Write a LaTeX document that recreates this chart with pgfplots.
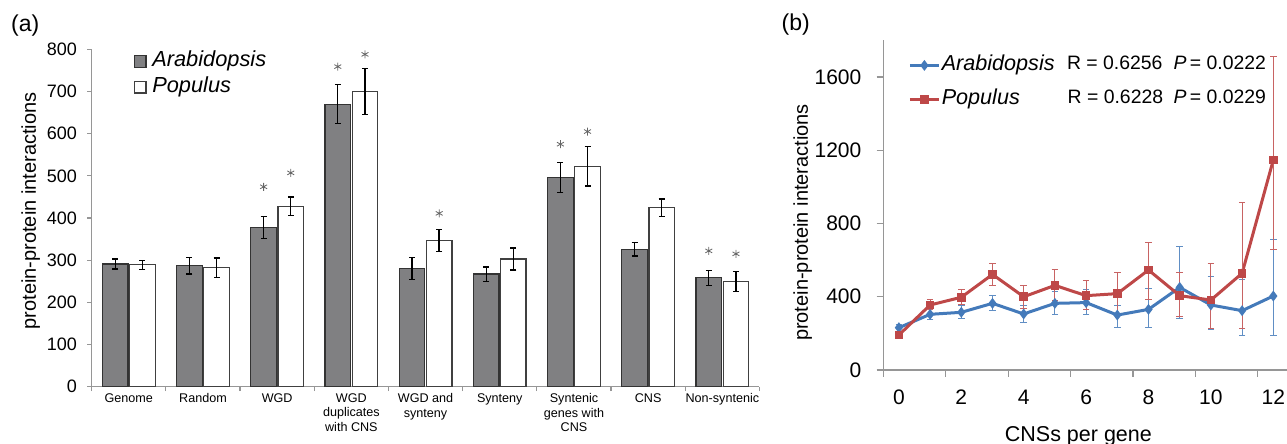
\documentclass[border=0pt]{standalone}
\usepackage{fontspec}
\setmainfont{Liberation Sans}
\usepackage{pgfplots}
\pgfplotsset{compat=1.18}
\usepackage{pgfplotstable}

\definecolor{bardark}{RGB}{128,128,130}
\definecolor{axgray}{RGB}{150,150,150}
\definecolor{ablue}{RGB}{68,122,186}
\definecolor{pred}{RGB}{190,72,72}

% panel (a): x, Arabidopsis mean, err, Populus mean, err
\pgfplotstableread{
x  a   ae  p   pe
0  291 12  289 11
1  287 20  282 23
2  377 26  428 22
3  670 46  700 55
4  280 26  346 26
5  267 17  303 26
6  496 36  523 47
7  326 16  424 21
8  258 18  249 24
}\bars

\pgfplotstableread{
x     y
1.817 474
2.183 507
2.817 759
3.183 788
4.183 411
5.817 575
6.183 605
7.817 322
8.183 315
}\stars

% panel (b)
\pgfplotstableread{
x  y   ep  em
0  231 20  22
1  304 24  27
2  315 35  33
3  364 42  40
4  306 45  46
5  364 62  60
6  368 70  65
7  300 53  69
8  331 115 100
9  451 221 172
10 355 158 133
11 324 171 138
12 404 311 218
}\arab

\pgfplotstableread{
x  y    ep  em
0  191 8   8
1  355 29  27
2  397 42  40
3  522 62  61
4  400 64  63
5  462 88  80
6  406 85  73
7  417 116 117
8  546 149 160
9  406 129 115
10 382 199 154
11 528 386 302
12 1147 564 488
}\popu

\begin{document}
\begin{tikzpicture}
\useasboundingbox (0,0) rectangle (643.5pt,222pt);

% ---------------- panel (a)
\begin{axis}[
  at={(45.85pt,28.65pt)}, anchor=south west,
  scale only axis, width=333.9pt, height=168.7pt,
  xmin=-0.5, xmax=8.5, ymin=0, ymax=800,
  axis x line*=bottom, axis y line*=left,
  axis line style={axgray, line width=0.6pt},
  tick style={axgray, line width=0.6pt},
  tick align=outside,
  major tick length=2.2pt,
  xtick={-0.5,0.5,...,8.5}, xticklabels={},
  extra x ticks={0,1,...,8},
  extra x tick labels={Genome,Random,WGD,{WGD\\duplicates\\with CNS},{WGD and\\synteny},Synteny,{Syntenic\\genes with\\CNS},CNS,Non-syntenic},
  extra x tick style={major tick length=0pt,
     tick label style={align=center, font=\fontsize{6.3}{7.2}\selectfont, anchor=north, inner sep=0pt, yshift=-3.3pt}},
  ytick={0,100,...,800},
  /pgf/number format/assume math mode=true,
  yticklabel style={font=\fontsize{9}{10}\selectfont, anchor=east, inner sep=0pt, xshift=-5pt},
  ylabel={protein-protein interactions},
  every axis y label/.style={at={(axis description cs:-0.0912,0.521)}, rotate=90, anchor=center, font=\fontsize{10}{12}\selectfont},
  legend style={draw=none, fill=none, at={(axis description cs:0.0623,0.9953)}, anchor=north west,
     inner sep=0pt, row sep=2.75pt, column sep=2.85pt,
     nodes={inner sep=0pt, text height=7.8pt, text depth=2.3pt},
     font=\fontsize{10.9}{13}\selectfont\itshape},
  legend cell align=left,
  legend image code/.code={\draw[#1] (0pt,-2.925pt) rectangle (5.85pt,2.925pt);},
]
\addplot[ybar, bar width=12.75pt, bar shift=-6.78pt, fill=bardark, draw=black!80, line width=0.6pt]
  table[x=x, y=a] {\bars};
\addlegendentry{Arabidopsis}
\addplot[ybar, bar width=12.75pt, bar shift=6.78pt, fill=white, draw=black!75, line width=0.6pt]
  table[x=x, y=p] {\bars};
\addlegendentry{Populus}
% error bars, centred on the bars
\addplot[draw=none, mark=none, forget plot,
  error bars/.cd, y dir=both, y explicit,
  error bar style={draw=black, line width=0.65pt},
  error mark options={draw=black, rotate=90, line width=0.65pt, mark size=1.5pt}]
  table[x expr=\thisrow{x}-0.1827, y=a, y error=ae] {\bars};
\addplot[draw=none, mark=none, forget plot,
  error bars/.cd, y dir=both, y explicit,
  error bar style={draw=black, line width=0.65pt},
  error mark options={draw=black, rotate=90, line width=0.65pt, mark size=1.5pt}]
  table[x expr=\thisrow{x}+0.1827, y=p, y error=pe] {\bars};
\addplot[only marks, mark=asterisk, mark size=2pt, color=black!60, line width=0.4pt, forget plot]
  table[x=x, y=y] {\stars};
\end{axis}

% ---------------- panel (b)
\begin{axis}[
  at={(441.65pt,37pt)}, anchor=south west,
  scale only axis, width=202.8pt, height=164.8pt,
  xmin=-0.5, xmax=12.5, ymin=0, ymax=1800,
  axis x line*=bottom, axis y line*=left,
  axis line style={axgray, line width=0.6pt},
  tick style={axgray, line width=0.6pt},
  tick align=outside,
  major tick length=3.3pt,
  xtick={-0.5,1.5,...,11.5}, xticklabels={},
  extra x ticks={0,2,...,12},
  extra x tick labels={0,2,4,6,8,10,12},
  extra x tick style={major tick length=0pt,
     tick label style={font=\fontsize{10.5}{12}\selectfont, anchor=north, inner sep=0pt, yshift=-9.6pt}},
  ytick={0,400,...,1600},
  /pgf/number format/assume math mode=true,
  /pgf/number format/1000 sep={},
  yticklabel style={font=\fontsize{10.5}{12}\selectfont, anchor=east, inner sep=0pt, xshift=-7.5pt},
  ylabel={protein-protein interactions},
  every axis y label/.style={at={(axis description cs:-0.199,0.4475)}, rotate=90, anchor=center, font=\fontsize{10}{12}\selectfont},
  xlabel={CNSs per gene},
  every axis x label/.style={at={(axis description cs:0.481,-0.2175)}, anchor=base, font=\fontsize{10.75}{12}\selectfont},
  legend style={draw=none, fill=none, at={(axis description cs:0.0609,0.9557)}, anchor=north west,
     inner sep=0pt, row sep=7pt, column sep=0.7pt,
     nodes={inner sep=0pt, text height=7.73pt, text depth=2.27pt},
     font=\fontsize{10.8}{13}\selectfont\itshape},
  legend cell align=left,
  legend image code/.code={\draw[#1, mark repeat=2, mark phase=2] plot coordinates {(0pt,0pt) (7.25pt,0pt) (14.5pt,0pt)};},
]
\addplot[color=ablue, line width=1.5pt, mark=diamond*, mark size=1.5pt, mark options={solid},
  error bars/.cd, y dir=both, y explicit,
  error bar style={ablue!85, line width=0.5pt},
  error mark options={ablue!85, rotate=90, line width=0.5pt, mark size=1.65pt}]
  table[x=x, y=y, y error plus=ep, y error minus=em] {\arab};
\addlegendentry{Arabidopsis}
\addplot[color=pred, line width=1.5pt, mark=square*, mark size=1.4pt, mark options={solid},
  error bars/.cd, y dir=both, y explicit,
  error bar style={pred!85, line width=0.5pt},
  error mark options={pred!85, rotate=90, line width=0.5pt, mark size=1.65pt}]
  table[x=x, y=y, y error plus=ep, y error minus=em] {\popu};
\addlegendentry{Populus}
\end{axis}

\begin{scope}[every node/.style={inner sep=0pt, text height=7.0pt, text depth=2.0pt, anchor=west, font=\fontsize{9.7}{12}\selectfont}]
\node at (533.35pt,189.5pt) {R = 0.6256};
\node at (586.65pt,189.5pt) {\textit{P}\,= 0.0222};
\node at (533.65pt,172.5pt) {R = 0.6228};
\node at (586.65pt,172.5pt) {\textit{P}\,= 0.0229};
\end{scope}

\node[inner sep=0pt, font=\fontsize{11.5}{13}\selectfont] at (12.65pt,209.1pt) {(a)};
\node[inner sep=0pt, font=\fontsize{11.5}{13}\selectfont] at (397.9pt,209.5pt) {(b)};
\end{tikzpicture}
\end{document}
